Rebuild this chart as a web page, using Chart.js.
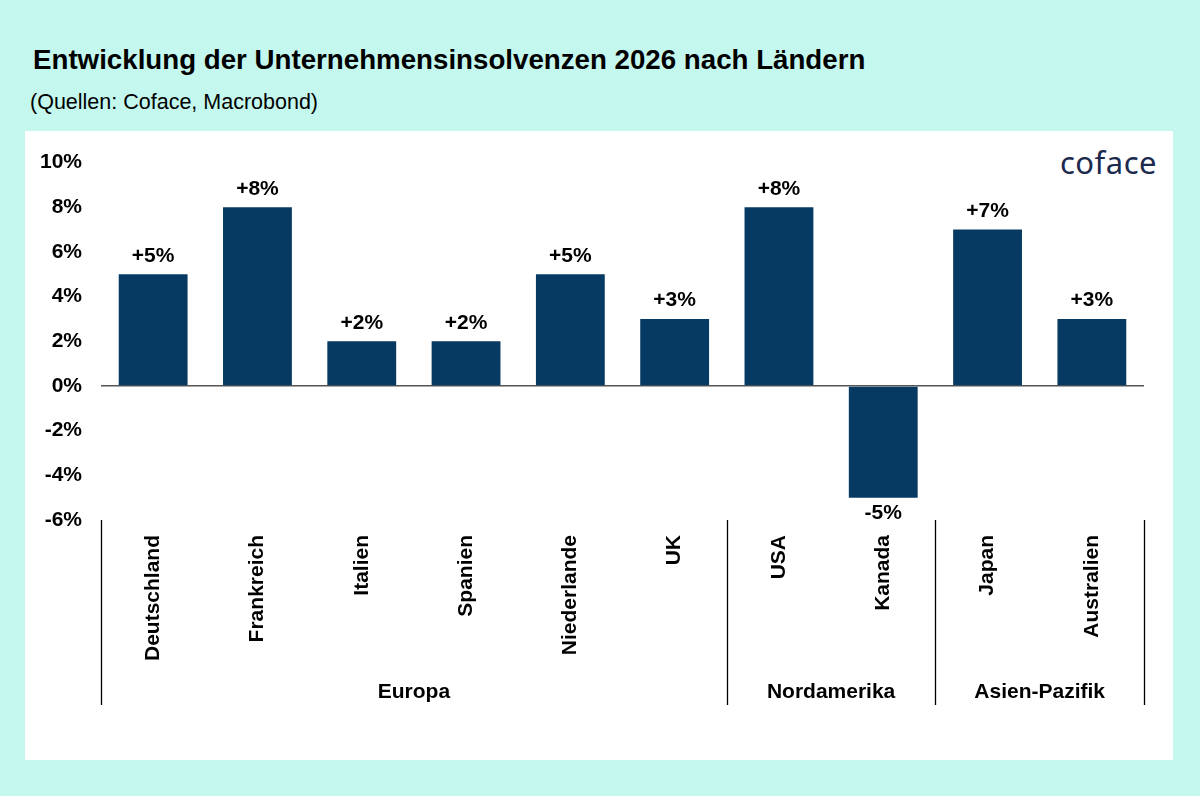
<!DOCTYPE html>
<html>
<head>
<meta charset="utf-8">
<script src="https://cdn.jsdelivr.net/npm/chart.js@4.4.1/dist/chart.umd.min.js"></script>
<style>
  body { margin: 0; width: 1200px; height: 796px; background: #c4f8ef; font-family: "Liberation Sans", Arial, sans-serif; position: relative; overflow: hidden; }
  #title { position: absolute; left: 33px; top: 44px; font-size: 27.7px; font-weight: bold; color: #000; }
  #sub { position: absolute; left: 30px; top: 90px; font-size: 21.5px; color: #000; }
  #card { position: absolute; left: 25px; top: 131px; width: 1148px; height: 629px; background: #fff; }
  #logo { position: absolute; right: 16px; top: 10px; font-family: "Noto Sans", sans-serif; font-size: 31px; color: #1b2a4e; letter-spacing: 0.5px; }
  canvas { position: absolute; left: 0; top: 0; }
</style>
</head>
<body>
<div id="title">Entwicklung der Unternehmensinsolvenzen 2026 nach Ländern</div>
<div id="sub">(Quellen: Coface, Macrobond)</div>
<div id="card">
  <div id="logo">coface</div>
  <canvas id="canvas" width="1148" height="629"></canvas>
</div>
<script>
const countries = ['Deutschland', 'Frankreich', 'Italien', 'Spanien', 'Niederlande', 'UK', 'USA', 'Kanada', 'Japan', 'Australien'];
const changes = [5, 8, 2, 2, 5, 3, 8, -5, 7, 3];
const regions = ['Europa', 'Nordamerika', 'Asien-Pazifik'];
const regionSizes = [6, 2, 2];
const yTicks = [-6, -4, -2, 0, 2, 4, 6, 8, 10];

const barColor = '#063a62';
const font = { family: '"Liberation Sans", Arial, sans-serif', size: 21, weight: 'bold' };
const cssFont = 'bold 21px "Liberation Sans", Arial, sans-serif';

const labelsPlugin = {
  id: 'valueLabels',
  afterDatasetsDraw(chart) {
    const c = chart.ctx;
    const meta = chart.getDatasetMeta(0);
    c.save();
    c.font = cssFont;
    c.fillStyle = '#000';
    c.textAlign = 'center';
    meta.data.forEach((bar, i) => {
      const v = changes[i];
      const txt = (v > 0 ? '+' : '') + v + '%';
      if (v >= 0) {
        c.textBaseline = 'bottom';
        c.fillText(txt, bar.x, bar.y - 8);
      } else {
        c.textBaseline = 'top';
        c.fillText(txt, bar.x, bar.y + 5);
      }
    });
    c.restore();
  }
};

const groupPlugin = {
  id: 'groups',
  afterDraw(chart) {
    const c = chart.ctx;
    const x = chart.scales.x;
    const top = chart.chartArea.bottom;
    const bottom = top + 185;
    c.save();
    c.strokeStyle = '#000';
    c.lineWidth = 1.3;
    c.font = cssFont;
    c.fillStyle = '#000';
    c.textAlign = 'center';
    c.textBaseline = 'middle';
    let start = 0;
    const edges = [start - 0.5];
    regions.forEach((r, k) => {
      const end = start + regionSizes[k];
      edges.push(end - 0.5);
      const x0 = x.getPixelForValue(start - 0.5);
      const x1 = x.getPixelForValue(end - 0.5);
      c.fillText(r, (x0 + x1) / 2, top + 172);
      start = end;
    });
    edges.forEach(e => {
      const px = Math.round(x.getPixelForValue(e)) + 0.5;
      c.beginPath();
      c.moveTo(px, top);
      c.lineTo(px, bottom);
      c.stroke();
    });
    c.restore();
  }
};

new Chart(document.getElementById('canvas'), {
  type: 'bar',
  data: {
    labels: countries,
    datasets: [{
      data: changes,
      backgroundColor: barColor,
      borderWidth: 0,
      barPercentage: 0.66,
      categoryPercentage: 1.0
    }]
  },
  options: {
    responsive: false,
    animation: false,
    layout: { padding: { left: 0, right: 29, top: 30, bottom: 0 } },
    plugins: { legend: { display: false }, tooltip: { enabled: false } },
    scales: {
      x: {
        grid: { display: false },
        border: { display: false },
        ticks: { color: '#000', font: font, minRotation: 90, maxRotation: 90, padding: 7, autoSkip: false },
        afterFit(scale) { scale.height = 240; }
      },
      y: {
        min: -6,
        max: 10,
        afterBuildTicks(scale) { scale.ticks = yTicks.map(v => ({ value: v })); },
        grid: {
          drawTicks: false,
          color: ctx => ctx.tick && ctx.tick.value === 0 ? '#555' : 'rgba(0,0,0,0)',
          lineWidth: 1.5
        },
        border: { display: false },
        ticks: { color: '#000', font: font, padding: 19, callback: v => v + '%' },
        afterFit(scale) { scale.width = 76; }
      }
    }
  },
  plugins: [labelsPlugin, groupPlugin]
});
</script>
</body>
</html>
